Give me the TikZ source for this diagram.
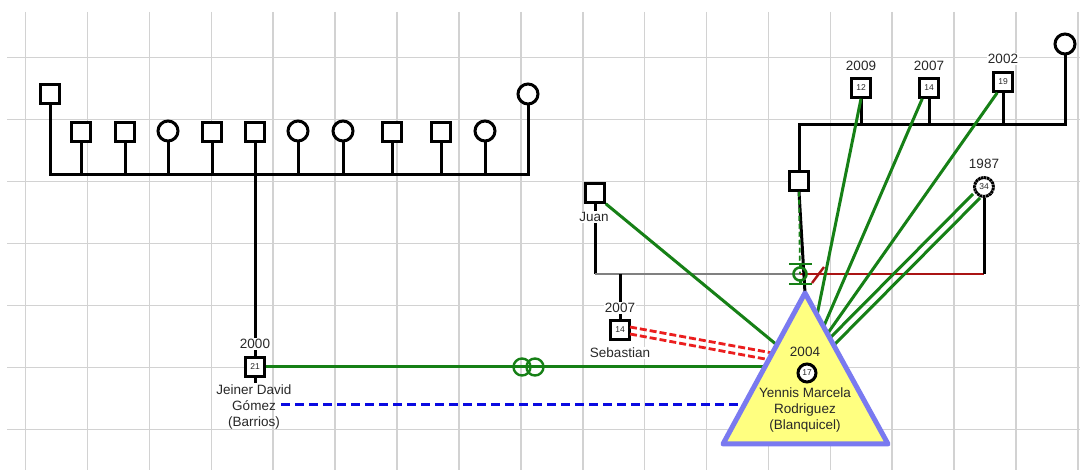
\documentclass[tikz,border=0pt]{standalone}
\usepackage{fontspec}
\setmainfont{Liberation Sans}
\definecolor{gridc}{RGB}{210,210,210}
\definecolor{grn}{RGB}{22,128,22}
\definecolor{dred}{RGB}{170,20,20}
\definecolor{rdash}{RGB}{235,30,30}
\definecolor{bdash}{RGB}{10,10,225}
\definecolor{tribord}{RGB}{122,122,240}
\definecolor{trifill}{RGB}{255,255,128}
\definecolor{txt}{RGB}{40,40,40}
\begin{document}
\begin{tikzpicture}[x=1pt,y=-1pt,
  sq/.style={draw=black,line width=3pt,fill=white,minimum size=18.5pt,inner sep=0pt,font=\fontsize{8.5}{9}\selectfont,text=txt},
  ci/.style={circle,draw=black,line width=3pt,fill=white,minimum size=20pt,inner sep=0pt,font=\fontsize{8.5}{9}\selectfont,text=txt},
  lbl/.style={font=\fontsize{13.5}{16}\selectfont,text=txt,inner sep=1pt,fill=white,align=center},
  ln/.style={line width=3pt,black},
  gridline/.style={line width=1.6pt,gridc},
  gline/.style={line width=3pt,grn},
  rline/.style={line width=2.8pt,rdash,dash pattern=on 7pt off 3pt},
  bline/.style={line width=3pt,bdash,dash pattern=on 9pt off 5pt},
]
\useasboundingbox (0,0) rectangle (1080,470);
\fill[white] (0,0) rectangle (1080,470);
% grid
\foreach \k in {0,...,17} \draw[gridline] ({25.6+61.9*\k},12) -- ({25.6+61.9*\k},470);
\foreach \k in {0,...,6} \draw[gridline] (7,{57.5+62*\k}) -- (1080,{57.5+62*\k});

% ---------- left family ----------
\node[sq] (lf) at (50,94) {};
\node[ci] (lm) at (528,94) {};
\node[sq] (c1) at (81,132) {};
\node[sq] (c2) at (125,132) {};
\node[ci] (c3) at (168,131) {};
\node[sq] (c4) at (212,132) {};
\node[sq] (c5) at (255,132) {};
\node[ci] (c6) at (298,131) {};
\node[ci] (c7) at (343,131) {};
\node[sq] (c8) at (392,132) {};
\node[sq] (c9) at (441,132) {};
\node[ci] (c10) at (485,131) {};
\coordinate (sl) at (0,175);
\draw[ln,line join=miter] (lf.south) -- (lf |- sl) -- (lm |- sl) -- (lm.south);
\foreach \c in {c1,c2,c3,c4,c5,c6,c7,c8,c9,c10} \draw[ln] (\c.south) -- (\c |- sl);
\node[sq] (jg) at (255,367) {21};
\draw[ln] (c5 |- sl) -- (jg.north);
\draw[ln] (jg.south) -- ++(0,5);

% ---------- right family ----------
\node[ci] (rm) at (1065,44) {};
\node[sq] (s12) at (861,88) {12};
\node[sq] (s14) at (929,88) {14};
\node[sq] (s19) at (1003,82) {19};
\node[sq] (pf) at (799,181) {};
\coordinate (rl) at (0,125);
\draw[ln,line join=miter] (pf.north) -- (pf |- rl) -- (rm |- rl) -- (rm.south);
\foreach \c in {s12,s14,s19} \draw[ln] (\c.south) -- (\c |- rl);

\node[ci,minimum size=19pt,dash pattern=on 2.5pt off 0.6pt] (c34) at (984,187) {34};
\node[sq] (juan) at (595,193) {};
\node[sq] (seb) at (620,330) {14};

% triangle corners and connector ends
\coordinate (apex) at (805,293);
\coordinate (bl) at (723,444);
\coordinate (br) at (888,444);
\coordinate (rel) at (800,274);
\coordinate (ml) at (0,274);
\coordinate (eJuan) at (783,350);
\coordinate (e12) at (814,330);
\coordinate (e14) at (820,335);
\coordinate (e19) at (823,340);
\coordinate (e34a) at (823,345);
\coordinate (e34b) at (829,350);
\coordinate (eJg) at (775,367);
\coordinate (bS) at (281,405);
\coordinate (eB) at (752,405);
\coordinate (sA) at (630,327);
\coordinate (sB) at (630,334);
\coordinate (eSA) at (778,354);
\coordinate (eSB) at (776,361);
\coordinate (s34a) at (973,194);
\coordinate (s34b) at (980,198);

% couple line Juan - mother
\draw[ln] (juan.south) -- (juan |- ml);
\draw[line width=2.6pt,gray] (juan |- ml) -- (rel);
\draw[line width=2.6pt,dred] (rel) -- (c34 |- ml);
\draw[ln] (c34.south) -- (c34 |- ml);
\draw[ln] (seb |- ml) -- (seb.north);
% father line
\draw[ln] (pf.south) -- (apex);
\draw[line width=1.8pt,grn,dash pattern=on 5pt off 3pt] (pf.south) -- (rel);

% green emotional lines
\draw[gline] (juan.south east) -- (eJuan);
\draw[gline] (s12.south) -- (e12);
\draw[gline] (s14.south west) ++(4,0) -- (e14);
\draw[gline] (s19.south west) ++(5,0) -- (e19);
\draw[gline] (s34a) -- (e34a);
\draw[gline] (s34b) -- (e34b);
\draw[gline] (jg.east) -- (eJg);
% red double dashed
\draw[rline] (sA) -- (eSA);
\draw[rline] (sB) -- (eSB);
% blue dashed
\draw[bline] (bS) -- (eB);

% fused symbol on green line
\node[circle,draw=grn,line width=2.4pt,minimum size=17pt,inner sep=0pt] (f1) at (522,367) {};
\node[circle,draw=grn,line width=2.4pt,minimum size=17pt,inner sep=0pt] (f2) at (535,367) {};

% relationship symbol
\draw[grn,line width=2.6pt] (rel) circle[radius=6.5pt];
\draw[grn,line width=2.6pt] (789,264) -- (812,264);
\draw[grn,line width=2.6pt] (789,284) -- (812,284);
\draw[grn,line width=2.2pt] (800.5,264) -- (800.5,268);
\draw[grn,line width=2.2pt] (800.5,284) -- (800.5,280);
\draw[dred,line width=2.4pt] (812,283) -- (824,267);

% index person triangle
\draw[line width=5pt,tribord,fill=trifill,line join=round] (apex) -- (br) -- (bl) -- cycle;
\node[font=\fontsize{13.5}{16}\selectfont,text=txt,inner sep=0pt] (yyear) at (805,352) {2004};
\node[ci,minimum size=18pt] (y17) at (807,373) {17};
\node[font=\fontsize{13.5}{16}\selectfont,text=txt,align=center,inner sep=0pt,anchor=north] (yname) at (805,388) {Yennis Marcela\\Rodriguez\\(Blanquicel)};

% labels
\node[lbl] (ljg) at (255,344) {2000};
\node[lbl,anchor=north,fill=none] (ljname) at (254,384) {Jeiner David\\Gómez\\(Barrios)};
\node[lbl] (l12) at (861,66) {2009};
\node[lbl] (l14) at (929,66) {2007};
\node[lbl] (l19) at (1003,59) {2002};
\node[lbl] (l34) at (984,164) {1987};
\node[lbl] (ljuan) at (594,217) {Juan};
\node[lbl] (lseby) at (620,308) {2007};
\node[lbl] (lseb) at (620,353) {Sebastian};
\end{tikzpicture}
\end{document}
